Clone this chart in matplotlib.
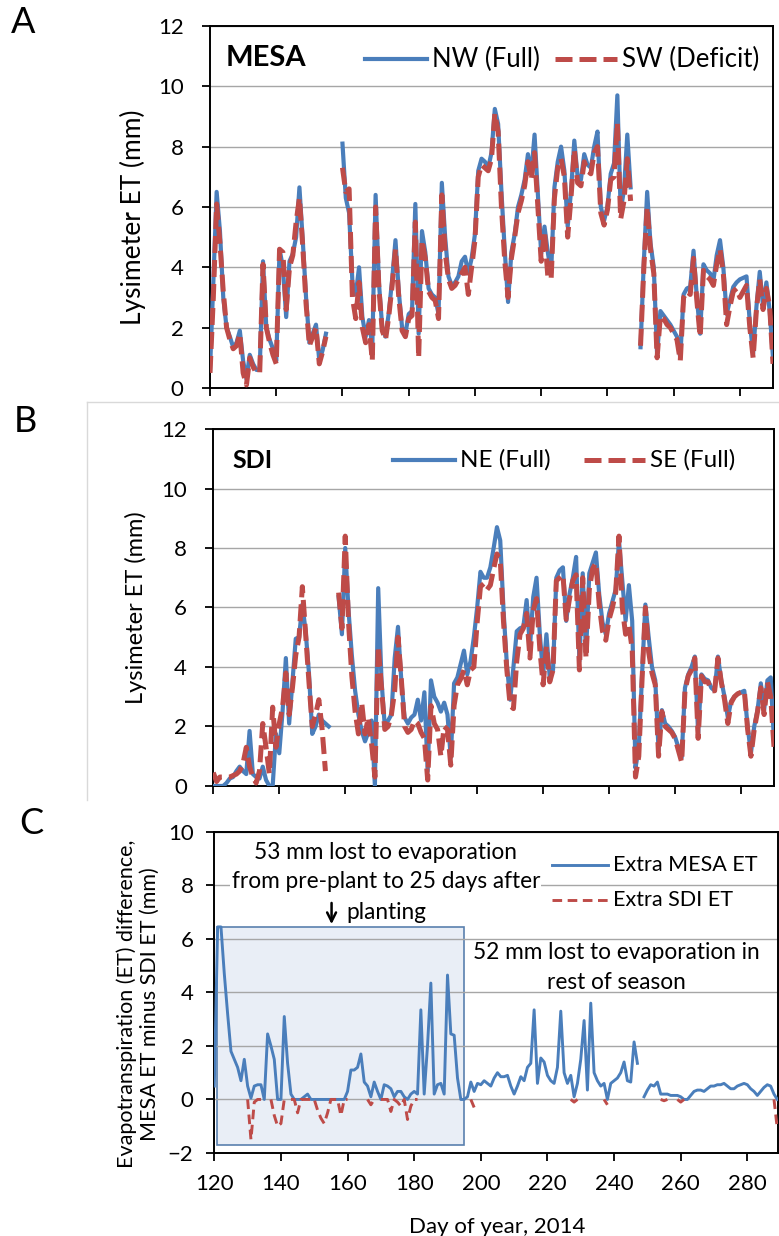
import numpy as np
import matplotlib.pyplot as plt
from matplotlib.patches import Rectangle
from matplotlib.lines import Line2D

nan = np.nan
plt.rcParams['font.family'] = ['Lato', 'DejaVu Sans']

days = np.arange(120, 291)

# Panel A - MESA lysimeters (mm/day)
nw_full = [0.6, 3.5, 6.5, 5.2, 3.0, 2.0, 1.7, 1.35, 1.5, 1.9,
           0.9, 0.3, 1.1, 0.8, 0.6, 0.6, 4.2, 2.0, 1.6, 1.3,
           0.9, 4.6, 4.0, 2.35, 4.2, 4.45, 5.0, 6.65, 4.9, 3.0,
           1.5, 1.8, 2.1, 0.9, 1.25, 1.8, nan, nan, nan, nan,
           8.1, 6.3, 5.8, 3.5, 3.1, 4.0, 2.35, 1.7, 2.25, 1.35,
           6.4, 3.5, 2.0, 1.7, 2.5, 3.6, 4.9, 3.2, 2.0, 1.8,
           2.45, 2.55, 6.1, 1.8, 5.2, 4.5, 3.3, 3.1, 3.0, 2.45,
           6.8, 5.0, 3.7, 3.4, 3.5, 3.7, 4.2, 4.35, 3.8, 4.3,
           5.1, 7.2, 7.6, 7.5, 7.3, 7.8, 9.25, 8.75, 6.5, 4.55,
           2.85, 4.5, 5.1, 6.0, 6.4, 6.9, 7.75, 7.1, 8.4, 6.4,
           4.45, 5.35, 4.5, 3.8, 6.65, 7.5, 8.0, 7.2, 5.35, 6.5,
           8.2, 7.0, 6.9, 7.75, 7.4, 7.3, 8.0, 8.5, 6.0, 5.55,
           6.0, 7.1, 7.45, 9.7, 5.9, 6.55, 8.4, 6.65, nan, nan,
           1.35, 4.2, 6.5, 4.8, 4.0, 1.1, 2.55, 2.4, 2.25, 2.1,
           1.9, 1.7, 1.0, 3.1, 3.3, 3.35, 4.55, 3.0, 1.8, 4.1,
           3.9, 3.8, 3.55, 4.4, 4.9, 4.0, 2.45, 2.9, 3.35, 3.5,
           3.6, 3.65, 3.7, 2.15, 1.15, 2.7, 3.85, 2.7, 3.5, 2.55,
           1.0]
sw_deficit = [0.5, 3.0, 6.1, 4.8, 3.2, 2.0, 1.6, 1.3, 1.4, 1.8,
              0.5, 0.1, 1.0, 0.7, 0.5, 0.5, 4.1, 2.0, 1.5, 1.1,
              0.8, 4.6, 4.5, 2.6, 4.0, 4.4, 5.5, 6.3, 4.7, 2.8,
              1.4, 1.7, 2.0, 0.8, 1.2, 1.7, nan, nan, nan, nan,
              7.3, 6.5, 6.6, 3.0, 2.3, 3.5, 2.0, 1.5, 2.1, 0.9,
              6.0, 3.3, 1.9, 1.6, 2.4, 3.4, 4.6, 3.0, 1.9, 1.7,
              2.3, 2.4, 5.5, 1.0, 4.9, 4.3, 3.2, 3.0, 2.9, 2.3,
              6.4, 4.5, 3.6, 3.3, 3.4, 3.6, 3.8, 4.0, 3.1, 4.0,
              4.9, 7.0, 7.4, 7.3, 7.2, 7.6, 9.1, 8.5, 6.0, 4.2,
              3.0, 4.3, 5.0, 5.8, 6.2, 6.7, 7.5, 6.9, 7.8, 6.0,
              4.2, 5.2, 3.7, 3.6, 6.3, 7.3, 7.6, 7.0, 5.0, 6.3,
              7.9, 6.8, 6.7, 7.5, 7.2, 7.1, 7.8, 8.0, 5.8, 5.4,
              5.9, 6.9, 7.0, 8.8, 5.6, 6.2, 7.6, 6.2, nan, nan,
              1.4, 4.0, 6.0, 4.6, 3.8, 1.0, 2.4, 2.3, 2.1, 2.0,
              1.8, 1.6, 0.9, 3.0, 3.2, 3.1, 4.3, 2.9, 1.7, 3.9,
              3.7, 3.6, 3.4, 4.1, 4.6, 3.8, 2.1, 2.7, 3.2, 3.3,
              3.0, 3.2, 3.4, 2.0, 1.0, 2.6, 3.6, 2.6, 3.3, 2.7,
              0.8]

# Panel B - SDI lysimeters
ne_full = [0.0, 0.0, 0.0, 0.0, 0.1, 0.25, 0.3, 0.5, 0.65, 0.5,
           0.4, 1.85, 0.4, 0.3, 0.25, 0.65, 0.2, 0.0, 0.0, 1.75,
           1.1, 2.5, 4.3, 2.1, 3.5, 4.95, 5.0, 6.1, 5.2, 3.8,
           1.75, 2.0, 2.4, 2.2, 2.1, 2.0, nan, nan, 6.35, 5.1,
           8.0, 5.9, 4.4, 3.2, 2.4, 1.85, 1.5, 1.8, 2.2, 0.0,
           6.65, 3.55, 2.0, 2.2, 2.4, 4.3, 5.35, 3.55, 2.3, 2.1,
           2.3, 2.4, 2.9, 2.2, 3.15, 0.5, 3.55, 3.0, 2.8, 2.5,
           2.8, 2.4, 0.95, 3.45, 3.65, 4.1, 4.55, 3.75, 4.2, 5.0,
           6.0, 7.2, 7.0, 7.0, 7.35, 8.0, 8.7, 8.25, 5.9, 4.1,
           2.9, 4.0, 5.2, 5.3, 5.35, 6.25, 4.65, 6.35, 7.0, 5.1,
           3.75, 5.1, 3.65, 3.9, 7.0, 7.25, 7.35, 5.55, 6.45, 7.0,
           7.7, 4.2, 7.15, 4.45, 7.15, 7.5, 7.85, 6.45, 5.5, 5.1,
           5.8, 6.2, 6.6, 8.25, 6.9, 5.55, 6.75, 5.55, 0.6, 1.3,
           3.75, 6.1, 5.0, 4.0, 3.55, 1.2, 2.55, 2.1, 2.0, 1.85,
           1.65, 1.3, 0.95, 3.3, 3.75, 4.0, 4.35, 1.75, 3.75, 3.6,
           3.55, 3.3, 3.2, 4.35, 3.55, 3.0, 2.3, 2.85, 3.0, 3.1,
           3.15, 3.2, 2.0, 1.1, 2.0, 2.55, 3.45, 2.55, 3.55, 3.65,
           1.5]
se_full = [0.45, 0.15, 0.3, 0.3, 0.3, 0.3, 0.35, 0.4, 0.5, 0.75,
           1.3, 0.65, 0.3, 0.1, 0.5, 2.1, 1.3, 0.4, 2.65, 1.3,
           2.1, 2.65, 3.8, 2.4, 3.3, 4.4, 5.0, 6.7, 5.1, 3.5,
           2.0, 2.4, 2.9, 1.9, 0.5, nan, nan, nan, 6.5, 5.3,
           8.4, 5.5, 3.7, 2.5, 1.75, 2.8, 1.75, 2.3, 1.4, 0.3,
           4.7, 3.3, 1.9, 2.0, 2.4, 3.2, 5.0, 3.6, 2.0, 1.8,
           1.9, 2.2, 2.1, 1.8, 1.6, 0.2, 2.7, 2.1, 1.9, 1.0,
           2.0, 1.9, 0.7, 2.7, 3.4, 3.6, 3.9, 3.4, 3.9, 4.0,
           5.5, 6.7, 6.8, 6.6, 6.75, 7.3, 7.8, 7.6, 5.5, 3.9,
           2.7, 2.6, 4.2, 5.1, 5.3, 5.8, 4.3, 5.9, 6.3, 4.6,
           3.4, 4.7, 3.5, 3.9, 6.9, 7.0, 7.1, 5.6, 6.3, 6.9,
           7.1, 3.9, 7.0, 4.3, 6.6, 7.3, 7.5, 6.1, 5.2, 4.9,
           5.6, 6.0, 6.5, 8.4, 6.0, 5.1, 5.4, 4.6, 0.3, 1.0,
           3.6, 6.0, 4.5, 3.8, 3.4, 1.0, 2.5, 2.0, 1.9, 1.8,
           1.6, 1.2, 0.8, 3.2, 3.7, 3.9, 4.3, 1.6, 3.7, 3.5,
           3.5, 3.2, 3.2, 4.3, 3.5, 2.9, 2.1, 2.8, 3.0, 3.1,
           3.15, 3.2, 1.9, 1.0, 1.9, 2.5, 3.3, 2.4, 3.5, 3.0,
           1.3]

# Panel C - MESA ET minus SDI ET
extra_mesa = [0.5, 6.45, 6.45, 4.7, 3.2, 1.8, 1.5, 1.2, 0.7, 1.5,
              0.5, 0.05, 0.5, 0.55, 0.55, 0.0, 2.45, 2.0, 1.5, 0.0,
              0.0, 3.1, 1.35, 0.2, 0.0, 0.0, 0.0, 0.1, 0.2, 0.0,
              0.0, 0.0, 0.0, 0.0, 0.0, 0.0, 0.0, 0.0, 0.0, 0.0,
              0.3, 1.1, 1.1, 1.2, 1.7, 0.65, 0.5, 0.1, 0.65, 0.3,
              0.0, 0.55, 0.5, 0.4, 0.1, 0.3, 0.3, 0.1, 0.0, 0.2,
              0.3, 0.2, 3.35, 0.2, 2.0, 4.35, 0.2, 0.55, 0.6, 0.2,
              4.65, 2.45, 2.4, 0.8, 0.0, 0.0, 0.1, 0.65, 0.3, 0.6,
              0.55, 0.7, 0.6, 0.5, 0.8, 1.0, 0.85, 0.85, 0.9, 0.5,
              0.2, 0.5, 0.85, 0.7, 1.2, 1.35, 3.35, 0.6, 1.55, 1.4,
              0.9, 0.7, 0.6, 1.2, 3.3, 1.0, 0.6, 0.9, 0.1, 0.6,
              1.5, 2.95, 0.35, 3.6, 1.0, 0.7, 0.5, 0.6, 0.0, 0.6,
              0.7, 0.8, 1.0, 1.4, 0.7, 0.65, 2.15, 1.35, nan, 0.1,
              0.35, 0.55, 0.5, 0.65, 0.2, 0.2, 0.2, 0.15, 0.15, 0.15,
              0.1, 0.0, 0.0, 0.15, 0.3, 0.35, 0.35, 0.3, 0.4, 0.5,
              0.5, 0.55, 0.55, 0.6, 0.5, 0.4, 0.4, 0.5, 0.55, 0.6,
              0.55, 0.4, 0.3, 0.15, 0.3, 0.45, 0.55, 0.5, 0.2, 0.0,
              nan]
extra_sdi = [nan, nan, nan, nan, nan, nan, nan, nan, nan, nan,
             0.0, -1.5, -0.1, 0.0, 0.0, 0.0, nan, 0.0, -0.6, -1.0,
             -0.9, 0.0, nan, 0.0, 0.0, -0.5, 0.0, 0.0, 0.0, 0.0,
             0.0, -0.4, -0.7, -0.9, -0.5, 0.0, 0.0, 0.0, -0.6, 0.0,
             0.0, nan, nan, nan, nan, nan, 0.0, -0.2, 0.0, nan,
             0.0, 0.0, 0.0, -0.45, 0.0, -0.1, -0.25, 0.0, -0.75, -0.25,
             0.0, 0.0, nan, nan, nan, nan, nan, nan, nan, nan,
             nan, nan, nan, nan, nan, nan, nan, 0.0, -0.3, nan,
             nan, nan, nan, nan, nan, nan, nan, nan, nan, nan,
             nan, nan, nan, nan, nan, nan, nan, nan, nan, nan,
             nan, nan, nan, nan, nan, nan, nan, 0.0, -0.1, 0.0,
             nan, nan, nan, nan, nan, nan, nan, 0.0, -0.2, nan,
             nan, nan, nan, nan, nan, nan, nan, nan, nan, nan,
             nan, nan, nan, nan, 0.0, -0.05, 0.0, nan, nan, 0.0,
             -0.1, 0.0, nan, nan, nan, nan, nan, nan, nan, nan,
             nan, nan, nan, nan, nan, nan, nan, nan, nan, nan,
             nan, nan, nan, nan, nan, nan, nan, nan, 0.0, -1.1,
             nan]

BLUE = '#4A7EBB'
RED = '#BE4B48'
GRID = '#A6A6A6'
W, H = 779, 1236

fig = plt.figure(figsize=(7.79, 12.36), dpi=100)


def frame(ax, ylim, yticks, xlim, pad):
    ax.set_xlim(*xlim)
    ax.set_ylim(*ylim)
    ax.set_yticks(yticks)
    ax.set_xticks(range(120, 290, 20))
    ax.yaxis.grid(True, color=GRID, lw=1)
    for s in ax.spines.values():
        s.set_linewidth(1.4)
        s.set_color('black')
    ax.tick_params(axis='y', labelsize=16, length=6, width=1.3, pad=pad)
    ax.tick_params(axis='x', labelsize=16, length=6, width=1.3)


def key(ax, x0, x1, y, text, size, **style):
    # legend entry placed in figure pixels: line from x0 to x1, label after it
    ax.add_line(Line2D([x0 / W, x1 / W], [1 - y / H] * 2, transform=fig.transFigure,
                       clip_on=False, zorder=6, **style))
    fig.text((x1 + 5) / W, 1 - y / H, text, fontsize=size, va='center', ha='left')


# ---- A ----
axA = fig.add_axes([0.2696, 0.6861, 0.7227, 0.2929])
axA.plot(days, nw_full, color=BLUE, lw=3.0, zorder=3)
axA.plot(days, sw_deficit, color=RED, lw=3.6, dashes=(3.4, 1.4), zorder=4)
frame(axA, (0, 12), range(0, 13, 2), (120, 290), 13)
axA.set_xticklabels([])
axA.set_ylabel('Lysimeter ET (mm)', fontsize=19)
axA.yaxis.set_label_coords(-0.113, 0.472)
axA.text(0.028, 0.912, 'MESA', transform=axA.transAxes, fontsize=21, fontweight='bold', va='center')
key(axA, 365, 427, 59, 'NW (Full)', 18.5, color=BLUE, lw=3.0)
key(axA, 555, 617, 59, 'SW (Deficit)', 18.5, color=RED, lw=3.6, dashes=(3.4, 1.4))

# ---- B ----
axB = fig.add_axes([0.2738, 0.3641, 0.7198, 0.2888])
axB.plot(days, ne_full, color=BLUE, lw=3.0, zorder=3)
axB.plot(days, se_full, color=RED, lw=3.6, dashes=(3.4, 1.4), zorder=4)
frame(axB, (0, 12), range(0, 13, 2), (120, 290), 13)
axB.set_xticklabels([])
axB.set_ylabel('Lysimeter ET (mm)', fontsize=17)
axB.yaxis.set_label_coords(-0.118, 0.5)
axB.text(0.035, 0.912, 'SDI', transform=axB.transAxes, fontsize=18, fontweight='bold', va='center')
key(axB, 393, 455, 460, 'NE (Full)', 17.5, color=BLUE, lw=3.0)
key(axB, 584, 645, 460, 'SE (Full)', 17.5, color=RED, lw=3.6, dashes=(3.4, 1.4))

# light frame around panel B
fig.add_artist(Line2D([87 / W, 1.0], [1 - 402 / H] * 2, color='#D9D9D9', lw=1))
fig.add_artist(Line2D([87 / W] * 2, [1 - 402 / H, 1 - 800 / H], color='#D9D9D9', lw=1))

# ---- C ----
axC = fig.add_axes([0.2751, 0.0672, 0.7236, 0.2597])
axC.add_patch(Rectangle((120.9, -1.7), 195 - 120.9, 6.45 + 1.7, facecolor='#E9EEF6',
                        edgecolor='#5A80AE', lw=1.2, zorder=1))
axC.plot(days, extra_mesa, color=BLUE, lw=2.1, zorder=3)
axC.plot(days, extra_sdi, color=RED, lw=2.1, dashes=(3.3, 1.9), zorder=4)
frame(axC, (-2, 10), range(-2, 11, 2), (120, 289.2), 9)
axC.tick_params(axis='x', pad=9)
axC.set_ylabel('Evapotranspiration (ET) difference,\nMESA ET minus SDI ET (mm)', fontsize=15.5,
               linespacing=1.2)
axC.yaxis.set_label_coords(-0.096, 0.464)
axC.set_xlabel('Day of year, 2014', fontsize=16)
axC.xaxis.set_label_coords(0.5015, -0.2)

note_lines = ['53 mm lost to evaporation', 'from pre-plant to 25 days after', 'planting']
for txt, yv in zip(note_lines, [9.22, 8.13, 7.0]):
    axC.text(171.5, yv, txt, ha='center', va='center', fontsize=16.3,
             bbox=dict(facecolor='white', edgecolor='none', pad=1), zorder=5)
axC.annotate('', xy=(155.2, 6.45), xytext=(155.2, 7.45),
             arrowprops=dict(arrowstyle='->', color='black', lw=1.8, mutation_scale=16), zorder=6)
for txt, yv in zip(['52 mm lost to evaporation in', 'rest of season'], [5.48, 4.39]):
    axC.text(240.8, yv, txt, ha='center', va='center', fontsize=16.3, zorder=5)

key(axC, 552, 608, 865, 'Extra MESA ET', 15.5, color=BLUE, lw=2.1)
key(axC, 552, 608, 900, 'Extra SDI ET', 15.5, color=RED, lw=2.1, dashes=(3.3, 1.9))

# panel letters
fig.text(11 / W, 1 - 6 / H, 'A', fontsize=26, va='top')
fig.text(14 / W, 1 - 405 / H, 'B', fontsize=26, va='top')
fig.text(19 / W, 1 - 807 / H, 'C', fontsize=26, va='top')

fig.savefig('out.png', dpi=100)
